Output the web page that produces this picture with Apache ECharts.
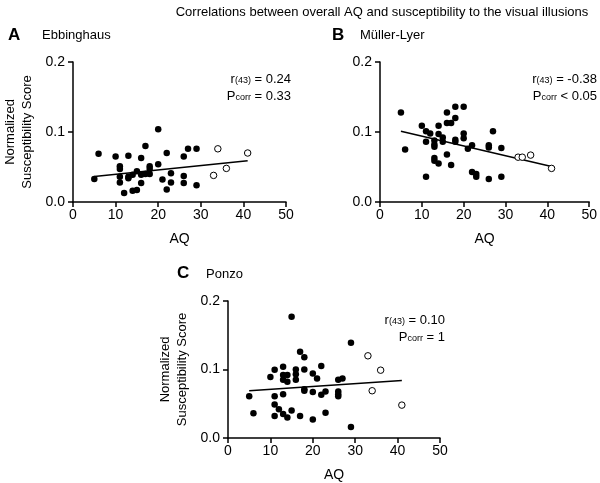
<!DOCTYPE html>
<html><head><meta charset="utf-8">
<script src="https://cdn.jsdelivr.net/npm/echarts@6/dist/echarts.min.js"></script>
<style>html,body{margin:0;padding:0;background:#fff}#c{width:600px;height:483px}</style>
</head><body><div id="c"></div>
<script>
// Panel A – Ebbinghaus
const aFilledX = [5,6,10,11,11,11,11,12,13,13,13,14,14,15,15,16,16,16,17,17,18,18,18,20,20,21,22,22,23,23,26,26,26,27,29,29];
const aFilledY = [0.033,0.069,0.065,0.051,0.047,0.036,0.028,0.013,0.066,0.036,0.034,0.039,0.016,0.017,0.044,0.063,0.039,0.027,0.080,0.040,0.040,0.051,0.047,0.104,0.054,0.032,0.070,0.018,0.041,0.028,0.065,0.037,0.027,0.076,0.076,0.024];
const aOpenX = [33,34,36,41];
const aOpenY = [0.038,0.076,0.048,0.070];
const aFitX = [5,41];
const aFitY = [0.0365,0.059];

// Panel B – Müller-Lyer
const bFilledX = [5,6,10,11,12,11,11,13,13,13,13,13,14,14,14,15,15,16,16,16,17,17,18,18,18,18,20,20,20,21,22,22,23,23,26,26,26,27,29,29];
const bFilledY = [0.128,0.075,0.109,0.101,0.098,0.086,0.036,0.088,0.082,0.079,0.063,0.059,0.109,0.097,0.055,0.092,0.086,0.128,0.113,0.068,0.113,0.053,0.136,0.120,0.089,0.086,0.136,0.098,0.091,0.076,0.081,0.043,0.040,0.036,0.081,0.078,0.033,0.101,0.077,0.036];
const bOpenX = [33,34,36,41];
const bOpenY = [0.064,0.064,0.067,0.048];
const bFitX = [5,41];
const bFitY = [0.101,0.0507];

// Panel C – Ponzo
const cFilledX = [5,6,10,11,11,11,11,12,13,13,13,13,13,14,14,14,15,15,16,16,16,17,17,18,18,18,18,20,20,20,21,22,22,23,23,26,26,26,26,27,29,29];
const cFilledY = [0.061,0.036,0.089,0.0995,0.061,0.049,0.032,0.042,0.104,0.092,0.085,0.064,0.035,0.092,0.082,0.030,0.177,0.040,0.100,0.093,0.085,0.126,0.032,0.118,0.100,0.071,0.069,0.094,0.067,0.027,0.087,0.105,0.063,0.068,0.037,0.085,0.068,0.064,0.061,0.087,0.139,0.016];
const cOpenX = [33,34,36,41];
const cOpenY = [0.120,0.069,0.099,0.048];
const cFitX = [5,41];
const cFitY = [0.069,0.084];

const xTicks = [0,10,20,30,40,50];
const yTicks = [0.0,0.1,0.2];

const FONT = '"Liberation Sans", Arial, sans-serif';
const zip = (xs, ys) => xs.map((x, i) => [x, ys[i]]);

const grids = [
  {left: 73, top: 62, width: 213, height: 140},
  {left: 380, top: 62, width: 213, height: 140},
  {left: 228, top: 301, width: 212, height: 141}
];

function xAxis(i) {
  return {
    gridIndex: i, type: 'value', min: xTicks[0], max: xTicks[xTicks.length-1], interval: 10,
    name: 'AQ', nameLocation: 'middle', nameGap: 30,
    nameTextStyle: {fontFamily: FONT, fontSize: 14, color: '#000'},
    axisLine: {show: true, onZero: false, lineStyle: {color: '#000', width: 1.5}},
    axisTick: {show: true, length: 5, lineStyle: {color: '#000', width: 1.5}},
    axisLabel: {fontFamily: FONT, fontSize: 14, color: '#000', margin: 6},
    splitLine: {show: false}
  };
}
function yAxis(i, withName) {
  return {
    gridIndex: i, type: 'value', min: yTicks[0], max: yTicks[yTicks.length-1], interval: 0.1,
    name: withName ? 'Normalized\nSusceptibility Score' : '', nameLocation: 'middle', nameGap: 37, nameRotate: 90,
    nameTextStyle: {fontFamily: FONT, fontSize: 13, color: '#000', lineHeight: 17},
    axisLine: {show: true, onZero: false, lineStyle: {color: '#000', width: 1.5}},
    axisTick: {show: true, length: 5, lineStyle: {color: '#000', width: 1.5}},
    axisLabel: {fontFamily: FONT, fontSize: 14, color: '#000', margin: 8, formatter: v => v.toFixed(1)},
    splitLine: {show: false}
  };
}
function panelSeries(i, fx, fy, ox, oy, lx, ly) {
  return [
    {type: 'line', xAxisIndex: i, yAxisIndex: i, data: zip(lx, ly), symbol: 'none',
     lineStyle: {color: '#000', width: 1.5}, z: 1, animation: false},
    {type: 'scatter', xAxisIndex: i, yAxisIndex: i, data: zip(fx, fy), symbol: 'circle', symbolSize: 6.5,
     itemStyle: {color: '#000', opacity: 1}, z: 2, animation: false},
    {type: 'scatter', xAxisIndex: i, yAxisIndex: i, data: zip(ox, oy), symbol: 'circle', symbolSize: 6.5,
     itemStyle: {color: '#fff', borderColor: '#000', borderWidth: 1, opacity: 1}, z: 3, animation: false}
  ];
}

const rich = {
  m: {fontFamily: FONT, fontSize: 13, color: '#000', lineHeight: 13},
  s: {fontFamily: FONT, fontSize: 9, color: '#000', lineHeight: 4, verticalAlign: 'bottom'}
};
function stat(x, y, main, sub, rest) {
  return {type: 'text', x: x, y: y, silent: true,
    style: {text: '{m|' + main + '}{s|' + sub + '}{m|' + rest + '}', rich: rich, align: 'right', verticalAlign: 'middle'}};
}
function label(x, y, text, bold, size) {
  return {type: 'text', x: x, y: y, silent: true,
    style: {text: text, fontFamily: FONT, fontSize: size, fontWeight: bold ? 'bold' : 'normal', fill: '#000', verticalAlign: 'middle'}};
}

const option = {
  backgroundColor: '#fff',
  animation: false,
  grid: grids,
  xAxis: [xAxis(0), xAxis(1), xAxis(2)],
  yAxis: [yAxis(0, true), yAxis(1, false), yAxis(2, true)],
  series: [].concat(
    panelSeries(0, aFilledX, aFilledY, aOpenX, aOpenY, aFitX, aFitY),
    panelSeries(1, bFilledX, bFilledY, bOpenX, bOpenY, bFitX, bFitY),
    panelSeries(2, cFilledX, cFilledY, cOpenX, cOpenY, cFitX, cFitY)
  ),
  graphic: [
    {type: 'text', x: 382, y: 12, silent: true,
     style: {text: 'Correlations between overall AQ and susceptibility to the visual illusions', fontFamily: FONT, fontSize: 13, fill: '#000', align: 'center', verticalAlign: 'middle'}},
    label(8, 35, 'A', true, 17),
    label(42, 35, 'Ebbinghaus', false, 13),
    label(332, 35, 'B', true, 17),
    label(360, 35, 'Müller-Lyer', false, 13),
    label(177, 273, 'C', true, 17),
    label(206, 274, 'Ponzo', false, 13),
    stat(291, 79, 'r', '(43)', ' = 0.24'),
    stat(291, 96, 'P', 'corr', ' = 0.33'),
    stat(597, 79, 'r', '(43)', ' = -0.38'),
    stat(597, 96, 'P', 'corr', ' < 0.05'),
    stat(445, 320, 'r', '(43)', ' = 0.10'),
    stat(445, 337, 'P', 'corr', ' = 1')
  ]
};
echarts.init(document.getElementById('c'), null, {renderer: 'canvas'}).setOption(option);
</script></body></html>
